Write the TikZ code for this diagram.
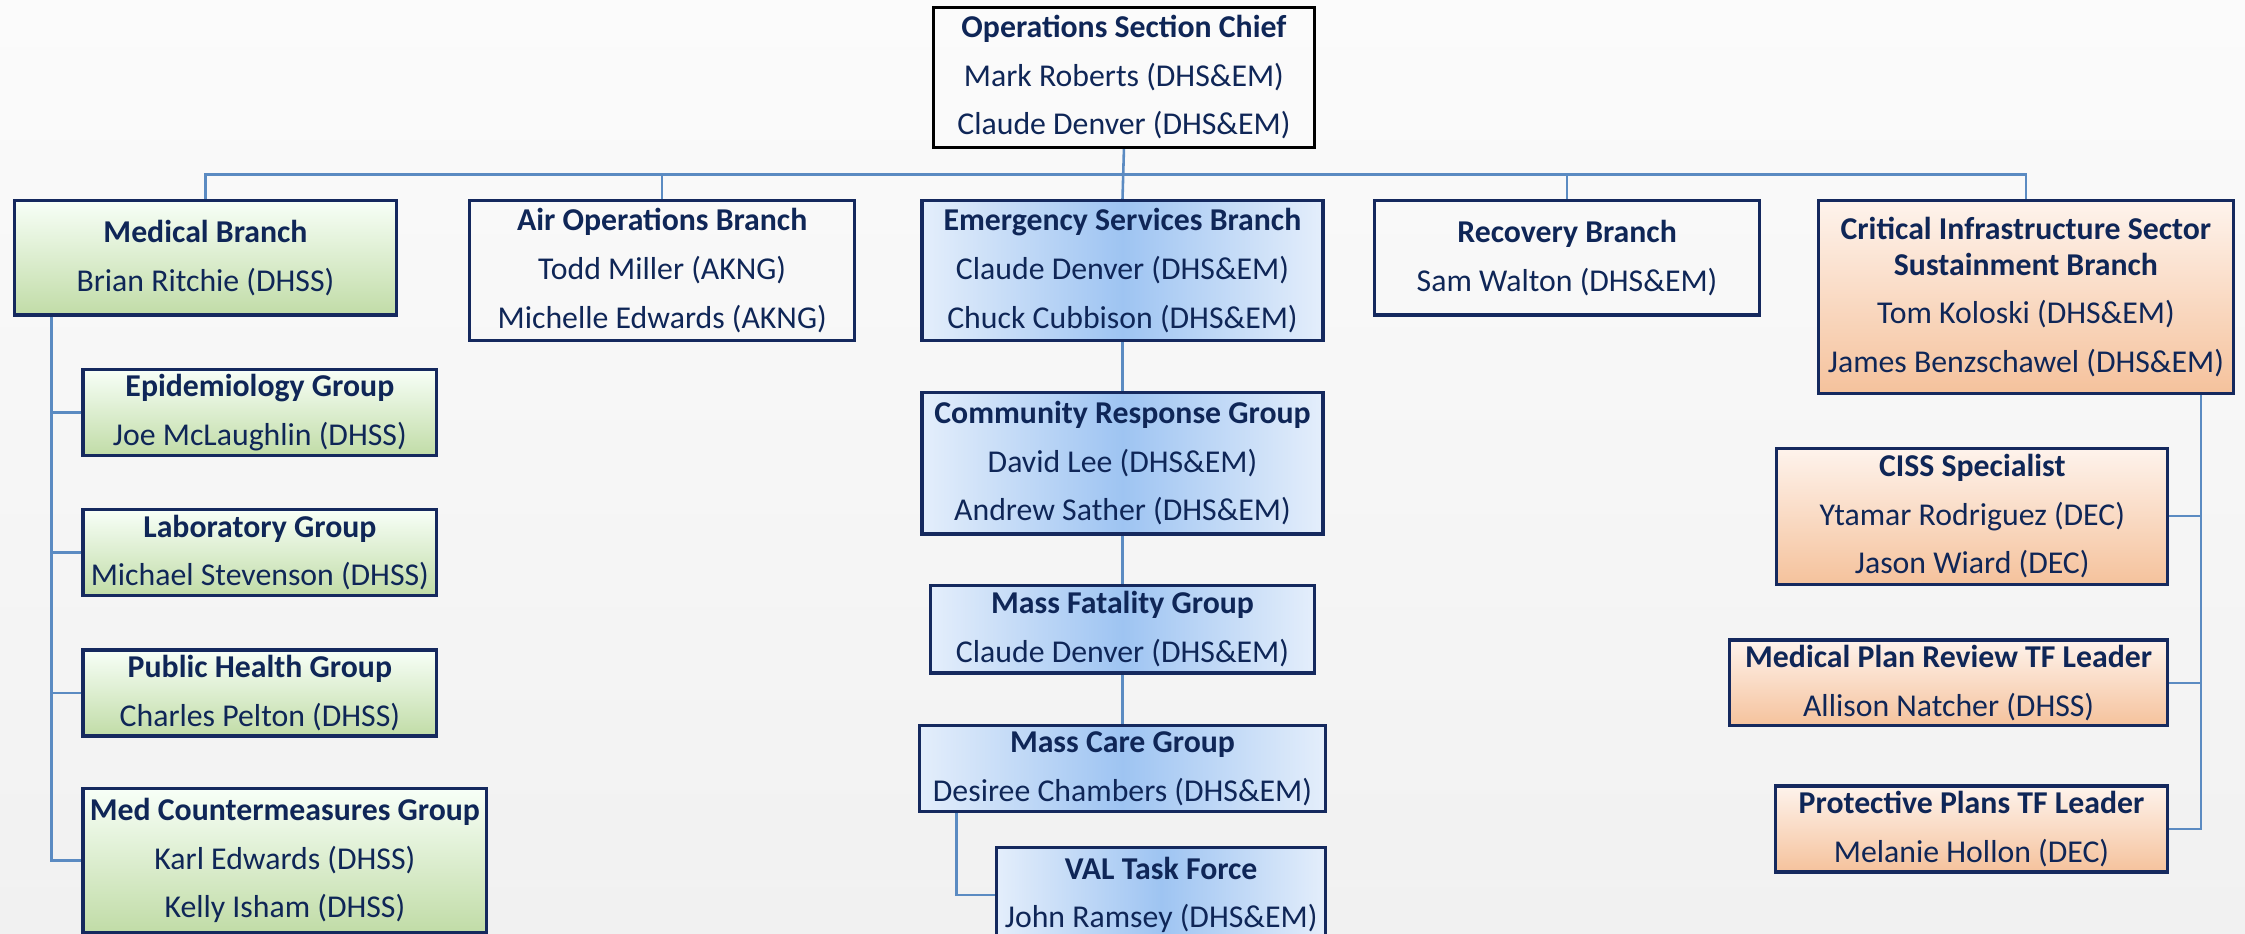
\documentclass[tikz,border=0pt]{standalone}
\usepackage{fontspec}
\setmainfont{Carlito}
\usepackage{tikz}
\definecolor{marine}{HTML}{0F2657}
\definecolor{cadre}{HTML}{15295E}
\definecolor{trait}{HTML}{5B8BC2}
\definecolor{fondhaut}{HTML}{FBFBFB}
\definecolor{fondbas}{HTML}{F1F1F1}
\tikzset{
	boite/.style={draw=cadre, line width=1.1pt, inner sep=0pt, align=center, text=marine, font=\fontsize{11.1}{17}\selectfont},
	vert/.style={boite, top color=green!3!white, bottom color={rgb,255:red,193;green,220;blue,167}},
	orange/.style={boite, top color={rgb,255:red,254;green,243;blue,236}, bottom color={rgb,255:red,245;green,194;blue,156}},
	bleu/.style={boite, left color={rgb,255:red,228;green,238;blue,251}, right color={rgb,255:red,228;green,238;blue,251}, middle color={rgb,255:red,158;green,196;blue,242}},
	lien/.style={draw=trait, line width=0.9pt}
}

\begin{document}
\begin{tikzpicture}[x=0.5pt,y=-0.5pt]
	\useasboundingbox (0,0) rectangle (1568,652);
	\shade[top color=fondhaut, bottom color=fondbas] (0,0) rectangle (1568,652);

	\node[boite, draw=black, minimum width=133pt, minimum height=49pt] (chef) at (785,54) {\textbf{Operations Section Chief}\\Mark Roberts (DHS\&EM)\\Claude Denver (DHS\&EM)};

	% branches
	\node[vert, minimum width=133.5pt, minimum height=40pt] (med) at (143.5,180) {\textbf{Medical Branch}\\Brian Ritchie (DHSS)};
	\node[boite, minimum width=134.5pt, minimum height=49pt] (air) at (462.5,189) {\textbf{Air Operations Branch}\\Todd Miller (AKNG)\\Michelle Edwards (AKNG)};
	\node[bleu, minimum width=140pt, minimum height=49pt] (esb) at (784,189) {\textbf{Emergency Services Branch}\\Claude Denver (DHS\&EM)\\Chuck Cubbison (DHS\&EM)};
	\node[boite, minimum width=134.5pt, minimum height=40pt] (rec) at (1094.5,180) {\textbf{Recovery Branch}\\Sam Walton (DHS\&EM)};
	\node[orange, minimum width=145pt, minimum height=67.5pt] (ciss) at (1415,207.5) {\textbf{Critical Infrastructure Sector}\\[-4.5pt]\textbf{Sustainment Branch}\\Tom Koloski (DHS\&EM)\\James Benzschawel (DHS\&EM)};

	% groupes medicaux
	\node[vert, minimum width=123.5pt, minimum height=30pt] (epi) at (181.5,288) {\textbf{Epidemiology Group}\\Joe McLaughlin (DHSS)};
	\node[vert, minimum width=123.5pt, minimum height=30pt] (lab) at (181.5,386) {\textbf{Laboratory Group}\\Michael Stevenson (DHSS)};
	\node[vert, minimum width=123.5pt, minimum height=30pt] (pub) at (181.5,484) {\textbf{Public Health Group}\\Charles Pelton (DHSS)};
	\node[vert, minimum width=141pt, minimum height=50pt] (mcm) at (199,601) {\textbf{Med Countermeasures Group}\\Karl Edwards (DHSS)\\Kelly Isham (DHSS)};

	% services d'urgence
	\node[bleu, minimum width=140pt, minimum height=49.5pt] (crg) at (784,323.5) {\textbf{Community Response Group}\\David Lee (DHS\&EM)\\Andrew Sather (DHS\&EM)};
	\node[bleu, minimum width=134pt, minimum height=30.5pt] (mfg) at (784,439.5) {\textbf{Mass Fatality Group}\\Claude Denver (DHS\&EM)};
	\node[bleu, minimum width=142pt, minimum height=30pt] (mcg) at (784,537) {\textbf{Mass Care Group}\\Desiree Chambers (DHS\&EM)};
	\node[bleu, minimum width=115pt, minimum height=33pt] (val) at (811,625) {\textbf{VAL Task Force}\\John Ramsey (DHS\&EM)};

	% CISS
	\node[orange, minimum width=136.5pt, minimum height=47.5pt] (spec) at (1377.5,360.5) {\textbf{CISS Specialist}\\Ytamar Rodriguez (DEC)\\Jason Wiard (DEC)};
	\node[orange, minimum width=153pt, minimum height=30pt] (mpr) at (1361,477) {\textbf{Medical Plan Review TF Leader}\\Allison Natcher (DHSS)};
	\node[orange, minimum width=137pt, minimum height=30pt] (pro) at (1377,579) {\textbf{Protective Plans TF Leader}\\Melanie Hollon (DEC)};

	% liens
	\coordinate (bus) at (785,122);
	\draw[lien] (med.north) |- (bus) -| (ciss.north);
	\draw[lien] (chef.south) -- (esb.north);
	\foreach \b in {air,rec}
		\draw[lien] (\b.north) -- (\b.north |- bus);
	\draw[lien] (med.south west) ++(27,0) |- (mcm.west);
	\foreach \g in {epi,lab,pub}
		\draw[lien] (\g.west) -- ++(-21,0);
	\draw[lien] (esb.south) -- (crg.north);
	\draw[lien] (crg.south) -- (mfg.north);
	\draw[lien] (mfg.south) -- (mcg.north);
	\draw[lien] (mcg.south west) ++(27,0) |- (val.west);
	\draw[lien] (ciss.south east) ++(-24,0) |- (pro.east);
	\foreach \c in {spec,mpr}
		\draw[lien] (\c.east) -- ++(22,0);
\end{tikzpicture}
\end{document}
